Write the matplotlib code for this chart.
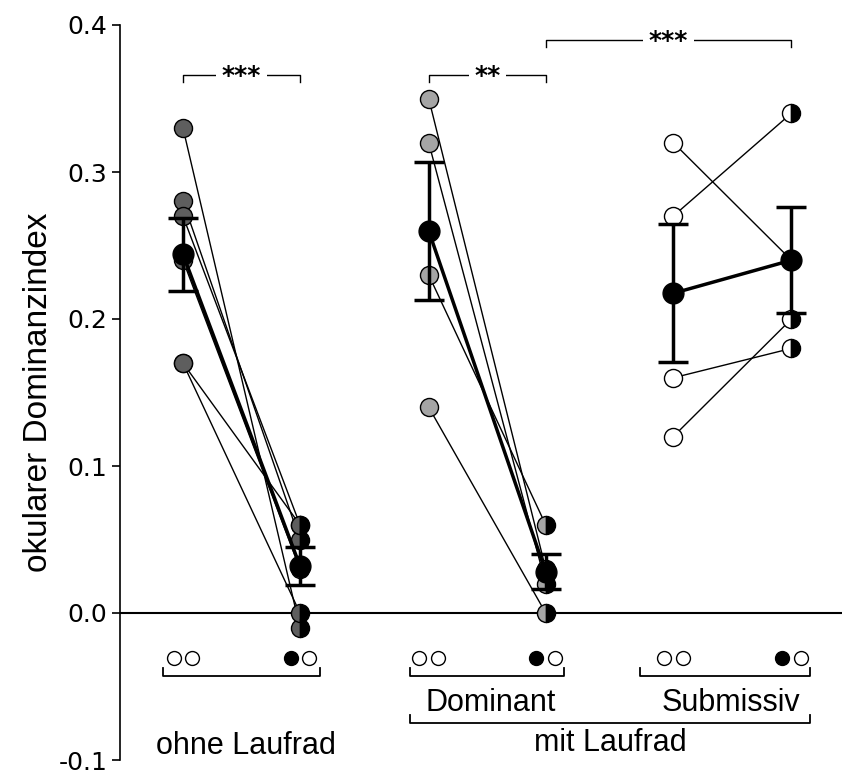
import matplotlib
matplotlib.use("Agg")
import matplotlib.pyplot as plt
from matplotlib import font_manager

# ---------------- data ----------------
x_pos = [0.0, 1.0, 2.1, 3.1, 4.19, 5.2]

ohne_pre = [0.33, 0.28, 0.27, 0.24, 0.17, 0.17]
ohne_post = [-0.01, 0.05, 0.06, 0.03, 0.06, 0.0]
dom_pre = [0.35, 0.32, 0.23, 0.14]
dom_post = [0.03, 0.02, 0.06, 0.0]
sub_pre = [0.32, 0.27, 0.16, 0.12]
sub_post = [0.24, 0.34, 0.18, 0.20]

means = [(0.244, 0.032), (0.26, 0.028), (0.2175, 0.24)]
sems = [(0.025, 0.013), (0.047, 0.012), (0.047, 0.036)]

group_colors = ["#5e5e5e", "#a5a5a5", "#ffffff"]

sig_labels = ["***", "**", "***"]
group_labels = ["Dominant", "Submissiv"]
outer_labels = ["ohne Laufrad", "mit Laufrad"]
y_ticks = [-0.1, 0.0, 0.1, 0.2, 0.3, 0.4]
y_label = "okularer Dominanzindex"

# ---------------- fonts ----------------
avail = {f.name for f in font_manager.fontManager.ttflist}
narrow = [f for f in ["Liberation Sans Narrow", "Liberation Sans", "DejaVu Sans"] if f in avail]

# ---------------- figure ----------------
W, H = 842, 773
fig = plt.figure(figsize=(W / 100, H / 100), dpi=100)
ax = fig.add_axes([120 / W, 13 / H, 1 - 120 / W, (H - 38) / H])
ax.set_xlim(-0.538, 5.632)
ax.set_ylim(-0.1, 0.4)
for s in ["top", "right", "bottom"]:
    ax.spines[s].set_visible(False)
ax.spines["left"].set_linewidth(1.2)
ax.set_xticks([])
ax.set_yticks(y_ticks)
ax.set_yticklabels([f"{v:.1f}" for v in y_ticks], family="DejaVu Sans", fontsize=18)
ax.tick_params(axis="y", direction="out", length=6, width=1.2, pad=3)
ax.set_ylabel(y_label, family=narrow, fontsize=24, labelpad=3)
ax.axhline(0.0, color="black", lw=1.5, zorder=1)

groups = [(ohne_pre, ohne_post), (dom_pre, dom_post), (sub_pre, sub_post)]
ms_sub = 13
for gi, (pre, post) in enumerate(groups):
    xa, xb = x_pos[2 * gi], x_pos[2 * gi + 1]
    col = group_colors[gi]
    for a, b in zip(pre, post):
        ax.plot([xa, xb], [a, b], color="black", lw=1.0, zorder=2)
    ax.plot([xa] * len(pre), pre, "o", ms=ms_sub, mfc=col, mec="black", mew=1.0,
            ls="none", zorder=3)
    ax.plot([xb] * len(post), post, "o", ms=ms_sub, mfc=col, mfcalt="black",
            fillstyle="left", mec="black", mew=1.0, ls="none", zorder=3)
    m, e = means[gi], sems[gi]
    ax.plot([xa, xb], list(m), color="black", lw=2.5, zorder=4)
    ax.errorbar([xa, xb], list(m), yerr=list(e), fmt="none", ecolor="black",
                elinewidth=2.5, capsize=11, capthick=2.5, zorder=5)
    ax.plot([xa, xb], list(m), "o", ms=15, mfc="black", mec="black", ls="none", zorder=6)

# significance brackets (top)
def top_bracket(x1, x2, y, label):
    ax.plot([x1, x1, x2, x2], [y - 0.005, y, y, y - 0.005], color="black", lw=1.0,
            clip_on=False, zorder=2)
    ax.text((x1 + x2) / 2, y - 0.001, label, ha="center", va="center", fontsize=18,
            family="DejaVu Sans", fontweight="bold",
            bbox=dict(facecolor="white", edgecolor="none", pad=4), zorder=3, clip_on=False)

top_bracket(x_pos[0], x_pos[1], 0.366, sig_labels[0])
top_bracket(x_pos[2], x_pos[3], 0.366, sig_labels[1])
top_bracket(x_pos[3], x_pos[5], 0.39, sig_labels[2])

# bottom condition symbols
dx = 0.08
for gi in range(3):
    xa, xb = x_pos[2 * gi], x_pos[2 * gi + 1]
    ax.plot([xa - dx, xa + dx], [-0.0305, -0.0305], "o", ms=10, mfc="white",
            mec="black", mew=1.0, ls="none", clip_on=False)
    ax.plot([xb - dx], [-0.0305], "o", ms=10, mfc="black", mec="black", mew=1.0,
            ls="none", clip_on=False)
    ax.plot([xb + dx], [-0.0305], "o", ms=10, mfc="white", mec="black", mew=1.0,
            ls="none", clip_on=False)

def low_bracket(x1, x2, y):
    ax.plot([x1, x1, x2, x2], [y + 0.005, y, y, y + 0.005], color="black", lw=1.3,
            clip_on=False)

low_bracket(-0.17, 1.17, -0.0427)
low_bracket(1.94, 3.26, -0.0427)
low_bracket(3.91, 5.36, -0.0427)
low_bracket(1.94, 5.36, -0.0746)

ax.text(2.63, -0.061, group_labels[0], ha="center", va="center", family=narrow, fontsize=22)
ax.text(4.68, -0.061, group_labels[1], ha="center", va="center", family=narrow, fontsize=22)
ax.text(0.54, -0.0905, outer_labels[0], ha="center", va="center", family=narrow, fontsize=22)
ax.text(3.65, -0.0885, outer_labels[1], ha="center", va="center", family=narrow, fontsize=22)

fig.savefig("out.png", dpi=100)
